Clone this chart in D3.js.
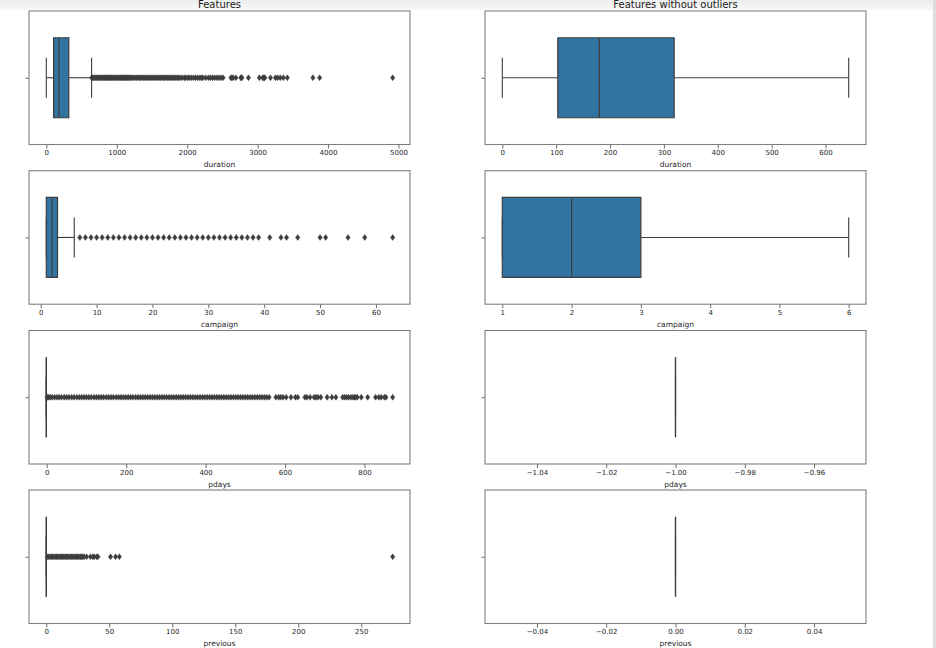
<!DOCTYPE html>
<html><head><meta charset="utf-8">
<script src="https://cdn.jsdelivr.net/npm/d3@7"></script>
<style>
body{margin:0;background:#fff;}
svg{display:block;font-family:"DejaVu Sans",sans-serif;}
</style>
</head><body>
<svg id="chart" width="936" height="648"></svg>
<script>
// ---------- data ----------
const features = ["duration", "campaign", "pdays", "previous"];
const columnTitles = ["Features", "Features without outliers"];

// box statistics: [lower whisker, Q1, median, Q3, upper whisker]
const durationBox = [0, 103, 180, 319, 643];
const campaignBox = [1, 1, 2, 3, 6];
const pdaysBox = [-1, -1, -1, -1, -1];
const previousBox = [0, 0, 0, 0, 0];

// outliers shown in the left column
const durationOutliers = [644,660,675,690,705,720,735,750,765,780,795,810,825,840,855,870,885,900,915,930,945,960,975,990,1005,1020,1035,1050,1065,1080,1095,1110,1125,1140,1155,1170,1185,1200,1220,1240,1260,1280,1300,1320,1340,1360,1380,1400,1420,1440,1460,1480,1500,1520,1540,1560,1580,1600,1620,1640,1660,1680,1700,1720,1740,1760,1780,1800,1820,1840,1860,1880,1900,1930,1960,1980,2010,2030,2060,2090,2120,2150,2180,2200,2220,2260,2300,2330,2360,2390,2420,2450,2480,2510,2621,2635,2653,2692,2762,2769,2777,2870,3025,3076,3078,3094,3102,3183,3253,3284,3322,3366,3422,3785,3881,4918];
const campaignOutliers = [7,8,9,10,11,12,13,14,15,16,17,18,19,20,21,22,23,24,25,26,27,28,29,30,31,32,33,34,35,36,37,38,39,41,43,44,46,50,51,55,58,63];
const pdaysOutliers = [1,2,5,9,14,20,26,31,37,44,50,56,63,69,76,82,88,94,100,106,112,119,125,131,137,143,150,156,162,168,175,181,187,193,199,205,211,217,224,230,236,242,248,254,260,266,272,278,284,290,296,302,308,314,320,326,332,338,344,350,356,362,368,374,380,386,392,398,404,410,416,422,428,434,440,446,452,458,464,470,476,482,488,494,500,506,512,518,524,530,536,542,548,554,560,577,584,589,595,603,615,626,632,650,655,663,673,678,683,690,706,718,728,745,750,755,760,766,771,775,778,782,792,808,828,836,842,850,854,871];
const previousOutliers = [1,2,3,4,5,6,7,8,9,10,11,12,13,14,15,16,17,18,19,20,21,22,23,24,25,26,27,28,29,30,32,35,37,38,40,41,51,55,58,275];

// tick labels
const durationTicksAll = [0, 1000, 2000, 3000, 4000, 5000];
const durationTicksClean = [0, 100, 200, 300, 400, 500, 600];
const campaignTicksAll = [0, 10, 20, 30, 40, 50, 60];
const campaignTicksClean = [1, 2, 3, 4, 5, 6];
const pdaysTicksAll = [0, 200, 400, 600, 800];
const pdaysTicksClean = [-1.04, -1.02, -1.00, -0.98, -0.96];
const previousTicksAll = [0, 50, 100, 150, 200, 250];
const previousTicksClean = [-0.04, -0.02, 0.00, 0.02, 0.04];

// ---------- build panels ----------
const boxes = [durationBox, campaignBox, pdaysBox, previousBox];
const outlierSets = [durationOutliers, campaignOutliers, pdaysOutliers, previousOutliers];
const ticksAll = [durationTicksAll, campaignTicksAll, pdaysTicksAll, previousTicksAll];
const ticksClean = [durationTicksClean, campaignTicksClean, pdaysTicksClean, previousTicksClean];
const decimalFmt = [false, false, true, true];

const svg = d3.select("#chart");
const W = 936, H = 648;

// page chrome (notebook background strip and scrollbar edge)
const defs = svg.append("defs");
const grad = defs.append("linearGradient").attr("id", "topband").attr("x1", 0).attr("y1", 0).attr("x2", 0).attr("y2", 1);
grad.append("stop").attr("offset", 0).attr("stop-color", "#ededed");
grad.append("stop").attr("offset", 1).attr("stop-color", "#f8f8f8");
svg.append("rect").attr("x", 0).attr("y", 0).attr("width", W).attr("height", 10).attr("fill", "url(#topband)");
svg.append("rect").attr("x", 933).attr("y", 0).attr("width", 3).attr("height", H).attr("fill", "#dedede");

const colX = [[29, 410], [485, 866]];
const rowTop = [11, 170.7, 330.5, 490];
const panelH = 133.5;
const boxHalf = 40, capHalf = 20;
const lineColor = "#3d3d3d";
const boxFill = "#3274a1";

function paddedDomain(values) {
  let [lo, hi] = d3.extent(values);
  if (lo === hi) {
    const d = lo === 0 ? 0.05 : Math.abs(lo) * 0.05;
    lo -= d; hi += d;
  }
  const m = (hi - lo) * 0.05;
  return [lo - m, hi + m];
}

const minusFmt = v => (v < 0 ? "\u2212" : "") + d3.format(".2f")(Math.abs(v));

features.forEach((feat, r) => {
  [0, 1].forEach(c => {
    const [x0, x1] = colX[c];
    const top = rowTop[r];
    const cy = top + panelH / 2;
    const stats = boxes[r];
    const outs = c === 0 ? outlierSets[r] : [];
    const x = d3.scaleLinear().domain(paddedDomain(stats.concat(outs))).range([x0, x1]);
    const y = d3.scaleLinear().domain([-0.5, 0.5]).range([top + panelH, top]);
    const g = svg.append("g");

    // x axis
    const ax = d3.axisBottom(x)
      .tickValues(c === 0 ? ticksAll[r] : ticksClean[r])
      .tickSize(4).tickPadding(2)
      .tickFormat(decimalFmt[r] && c === 1 ? minusFmt : d3.format("d"));
    const axg = g.append("g").attr("transform", `translate(0,${top + panelH})`).call(ax);
    axg.select(".domain").remove();
    axg.selectAll(".tick line").attr("stroke", "#444").attr("stroke-width", 0.8);
    axg.selectAll(".tick text").attr("fill", "#262626").attr("font-size", 7).attr("font-family", "DejaVu Sans");

    // y axis with single unlabeled tick
    const ay = d3.axisLeft(y).tickValues([0]).tickSize(3.5).tickFormat("");
    const ayg = g.append("g").attr("transform", `translate(${x0},0)`).call(ay);
    ayg.select(".domain").remove();
    ayg.selectAll(".tick line").attr("stroke", "#444").attr("stroke-width", 0.8);

    // whiskers
    g.append("line").attr("x1", x(stats[0])).attr("x2", x(stats[1])).attr("y1", cy).attr("y2", cy)
      .attr("stroke", lineColor).attr("stroke-width", 1.1);
    g.append("line").attr("x1", x(stats[3])).attr("x2", x(stats[4])).attr("y1", cy).attr("y2", cy)
      .attr("stroke", lineColor).attr("stroke-width", 1.1);
    [stats[0], stats[4]].forEach(v => {
      g.append("line").attr("x1", x(v)).attr("x2", x(v)).attr("y1", cy - capHalf).attr("y2", cy + capHalf)
        .attr("stroke", lineColor).attr("stroke-width", 1.1);
    });

    // box (path so a collapsed box still draws as a line)
    const bx0 = x(stats[1]), bx1 = x(stats[3]);
    g.append("path")
      .attr("d", `M${bx0},${cy - boxHalf}H${bx1}V${cy + boxHalf}H${bx0}Z`)
      .attr("fill", boxFill).attr("stroke", lineColor).attr("stroke-width", 1.2);
    g.append("line").attr("x1", x(stats[2])).attr("x2", x(stats[2]))
      .attr("y1", cy - boxHalf).attr("y2", cy + boxHalf)
      .attr("stroke", lineColor).attr("stroke-width", 1.2);

    // outliers (thin diamonds)
    g.selectAll("path.flier").data(outs).enter().append("path")
      .attr("class", "flier")
      .attr("d", v => { const px = x(v); return `M${px},${cy - 3}L${px + 2.2},${cy}L${px},${cy + 3}L${px - 2.2},${cy}Z`; })
      .attr("fill", lineColor).attr("stroke", lineColor).attr("stroke-width", 0.4);

    // frame
    g.append("rect").attr("x", x0).attr("y", top).attr("width", x1 - x0).attr("height", panelH)
      .attr("fill", "none").attr("stroke", "#7f7f7f").attr("stroke-width", 1.1);

    // x label
    g.append("text").attr("x", (x0 + x1) / 2).attr("y", top + panelH + 22.5)
      .attr("text-anchor", "middle").attr("font-size", 7.5).attr("fill", "#262626").text(feat);

    if (r === 0) {
      g.append("text").attr("x", (x0 + x1) / 2).attr("y", top - 3)
        .attr("text-anchor", "middle").attr("font-size", 10).attr("fill", "#1a1a1a").text(columnTitles[c]);
    }
  });
});
</script>
</body></html>
